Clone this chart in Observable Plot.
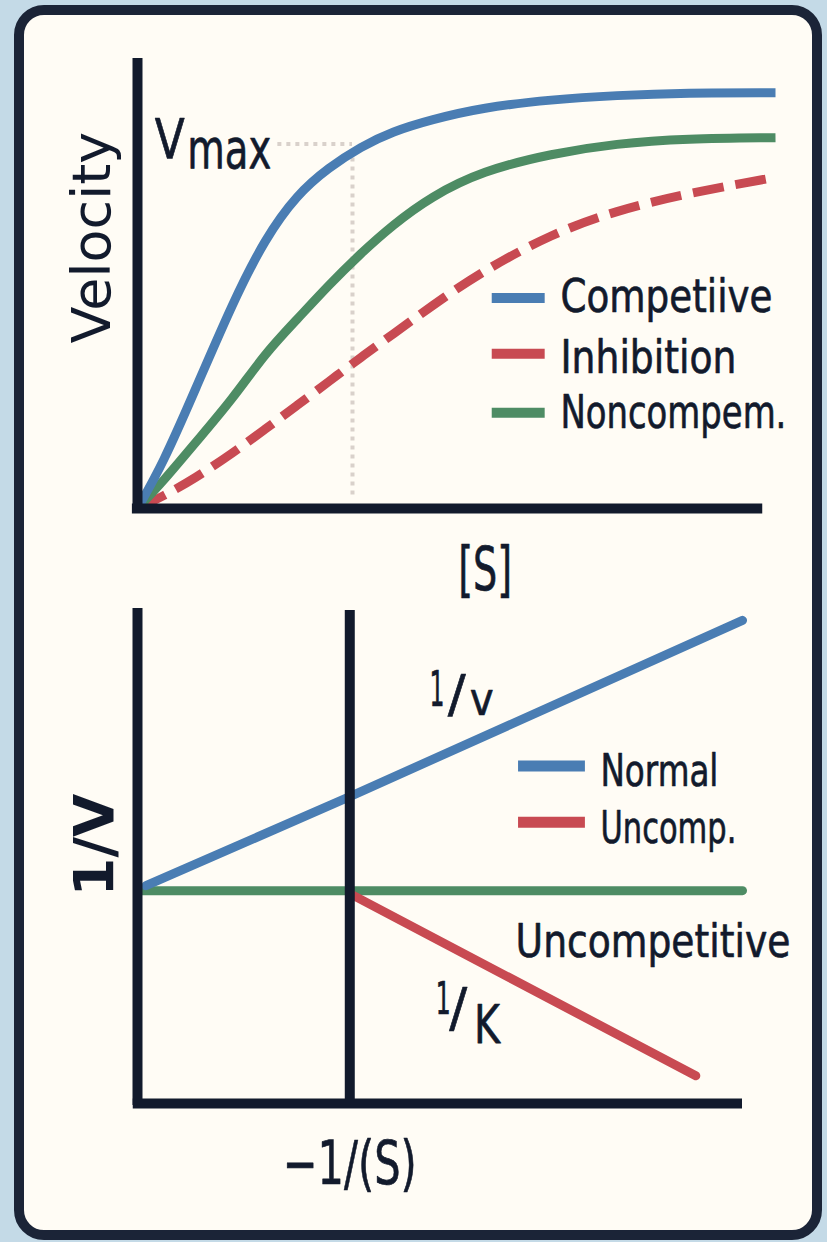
<!DOCTYPE html>
<html><head><meta charset="utf-8">
<script src="https://cdn.jsdelivr.net/npm/d3@7"></script>
<script src="https://cdn.jsdelivr.net/npm/@observablehq/plot@0.6"></script>
<style>
html,body{margin:0;padding:0;background:#c4dae7;}
#page{position:relative;width:827px;height:1242px;overflow:hidden;background:#c4dae7;}
#card{position:absolute;left:14px;top:5px;width:788px;height:1215px;border:10px solid #1b2437;border-radius:30px;background:#fffcf5;}
#page svg{position:absolute;left:0;}
</style></head><body><div id="page"><div id="card"></div></div>
<script>
// ---- Top chart: velocity vs [S] ----
const substrate      = [0, 0.4, 0.9, 1.5, 2.0, 2.5, 3.0, 3.5, 4.0, 4.6, 5.4, 6.5, 7.5, 8.6, 10];
const competitive    = [0, 0.10, 0.262, 0.46, 0.60, 0.698, 0.758, 0.804, 0.838, 0.864, 0.891, 0.909, 0.918, 0.924, 0.924];
const noncompetitive = [0, 0.06, 0.145, 0.245, 0.345, 0.42, 0.497, 0.567, 0.63, 0.693, 0.75, 0.789, 0.811, 0.822, 0.824];
const inhibition     = [0, 0.027, 0.067, 0.124, 0.176, 0.229, 0.282, 0.336, 0.387, 0.449, 0.527, 0.611, 0.662, 0.70, 0.736];
const topLegend = ["Competiive", "Inhibition", "Noncompem."];
const vmaxLevel = 0.81;
const kmS = 3.37;

// ---- Bottom chart: double reciprocal ----
const normalLine = {x: [-0.96, 0, 1.85], y: [2.2, 3.1, 4.88]};
const uncompLine = {x: [0, 1.63], y: [2.12, 0.28]};
const flatLine   = {x: [-0.985, 1.85], y: [2.15, 2.15]};
const bottomLegend = ["Normal", "Uncomp."];

const BLUE = "#4a7db3", RED = "#c84a52", GREEN = "#4e8c64", INK = "#121a2c", DOT = "#d9d1cb";
const FONT = "'DejaVu Sans','Liberation Sans',sans-serif";

// rendered widths of the (condensed) lettering
const textWidths = {
  "Competiive": 212, "Inhibition": 176, "Noncompem.": 226, "[S]": 54, "V": 30, "max": 84,
  "Normal": 118, "Uncomp.": 136, "Uncompetitive": 275, "\u22121/(S)": 134,
  "1": 15, "/": 18, "v": 24, "K": 26
};

const toRows = (xs, ys, name) => xs.map((x, i) => ({x, y: ys[i], name}));
const blueRows = toRows(substrate, competitive, "Competitive");
const greenRows = toRows(substrate, noncompetitive, "Noncompetitive");
const redRows = toRows(substrate, inhibition, "Inhibition");
const lgTop = topLegend.map((t, i) => ({t, y: [0.468, 0.344, 0.213][i], ty: [0.437, 0.302, 0.18][i], c: [BLUE, RED, GREEN][i]}));

const txt = (s, x, y, size, extra = {}) =>
  Plot.text([s], {x: () => x, y: () => y, text: d => d, fontSize: size, fontFamily: FONT, fill: INK,
    stroke: INK, strokeWidth: 0.7, lineAnchor: "bottom", ...extra});

const topChart = Plot.plot({
  width: 827, height: 620,
  marginLeft: 137, marginRight: 52, marginTop: 58, marginBottom: 112,
  x: {domain: [0, 10], axis: null},
  y: {domain: [0, 1], axis: null},
  style: {background: "transparent", overflow: "visible"},
  marks: [
    Plot.ruleY([vmaxLevel], {x1: 2.2, x2: kmS, stroke: DOT, strokeWidth: 4, strokeDasharray: "4,5"}),
    Plot.ruleX([kmS], {y1: 0.03, y2: vmaxLevel - 0.03, stroke: DOT, strokeWidth: 4, strokeDasharray: "4,5"}),
    Plot.line(redRows, {x: "x", y: "y", stroke: RED, strokeWidth: 9, curve: "basis", strokeDasharray: "31,12", strokeLinecap: "butt"}),
    Plot.line(greenRows, {x: "x", y: "y", stroke: GREEN, strokeWidth: 9, curve: "basis", strokeLinecap: "butt"}),
    Plot.line(blueRows, {x: "x", y: "y", stroke: BLUE, strokeWidth: 9, curve: "basis", strokeLinecap: "butt"}),
    Plot.ruleX([0], {y1: -0.01, y2: 1, stroke: INK, strokeWidth: 10}),
    Plot.ruleY([0], {x1: -0.08, x2: 9.8, stroke: INK, strokeWidth: 10}),
    Plot.ruleY(lgTop, {y: "y", x1: 5.56, x2: 6.39, stroke: "c", strokeWidth: 10}),
    Plot.text(lgTop, {y: "ty", x: () => 6.63, text: "t", textAnchor: "start", fontSize: 46, fontFamily: FONT, fill: INK, stroke: INK, strokeWidth: 0.7, lineAnchor: "bottom"}),
    Plot.text(["Velocity"], {x: () => -0.705, y: () => 0.602, text: d => d, rotate: -90, fontSize: 54, fontFamily: FONT, fill: INK}),
    txt("[S]", 5.45, -0.182, 60),
    txt("V", 0.27, 0.778, 56, {textAnchor: "start"}),
    txt("max", 0.78, 0.756, 56, {textAnchor: "start"})
  ]
});
topChart.style.top = "0px";

const lgBot = bottomLegend.map((t, i) => ({t, y: [3.41, 2.84][i], ty: [3.21, 2.63][i], c: [BLUE, RED][i]}));
const bottomChart = Plot.plot({
  width: 827, height: 640,
  marginLeft: 137, marginRight: 85, marginTop: 18, marginBottom: 127,
  x: {domain: [-1, 1.85], axis: null},
  y: {domain: [0, 5], axis: null},
  style: {background: "transparent", overflow: "visible"},
  marks: [
    Plot.line(toRows(flatLine.x, flatLine.y, "flat"), {x: "x", y: "y", stroke: GREEN, strokeWidth: 9}),
    Plot.line(toRows(normalLine.x, normalLine.y, "normal"), {x: "x", y: "y", stroke: BLUE, strokeWidth: 9, strokeLinecap: "round"}),
    Plot.line(toRows(uncompLine.x, uncompLine.y, "uncomp"), {x: "x", y: "y", stroke: RED, strokeWidth: 9, strokeLinecap: "round"}),
    Plot.ruleX([-1], {y1: -0.02, y2: 5, stroke: INK, strokeWidth: 10}),
    Plot.ruleX([0], {y1: -0.02, y2: 4.98, stroke: INK, strokeWidth: 10}),
    Plot.ruleY([0], {x1: -1.02, x2: 1.85, stroke: INK, strokeWidth: 10}),
    Plot.ruleY(lgBot, {y: "y", x1: 0.795, x2: 1.11, stroke: "c", strokeWidth: 11}),
    Plot.text(lgBot, {y: "ty", x: () => 1.181, text: "t", textAnchor: "start", fontSize: 45, fontFamily: FONT, fill: INK, stroke: INK, strokeWidth: 0.7, lineAnchor: "bottom"}),
    txt("Uncompetitive", 0.781, 1.475, 47, {textAnchor: "start"}),
    txt("1", 0.375, 4.02, 49, {textAnchor: "start"}),
    txt("/", 0.462, 3.95, 52, {textAnchor: "start"}),
    txt("v", 0.565, 3.92, 46, {textAnchor: "start"}),
    txt("1", 0.405, 0.909, 44, {textAnchor: "start"}),
    txt("/", 0.468, 0.778, 54, {textAnchor: "start"}),
    txt("K", 0.585, 0.616, 54, {textAnchor: "start"}),
    Plot.text(["1/V"], {x: () => -1.198, y: () => 2.61, text: d => d, rotate: -90, fontSize: 56, fontWeight: "bold", fontFamily: FONT, fill: INK}),
    txt("\u22121/(S)", 0, -0.81, 60)
  ]
});
bottomChart.style.top = "590px";

const page = document.getElementById("page");
page.appendChild(topChart);
page.appendChild(bottomChart);

// condense lettering horizontally to the widths seen in the picture
for (const svg of [topChart, bottomChart]) {
  svg.querySelectorAll("text").forEach(t => {
    const w = textWidths[t.textContent];
    if (!w) return;
    const len = t.getComputedTextLength();
    if (!len) return;
    const k = w / len;
    const tr = t.getAttribute("transform") || "";
    const x = +t.getAttribute("x") || 0, y = +t.getAttribute("y") || 0;
    t.removeAttribute("x"); t.removeAttribute("y");
    t.setAttribute("transform", `${tr} translate(${x},${y}) scale(${k},1)`);
  });
}
</script></body></html>
